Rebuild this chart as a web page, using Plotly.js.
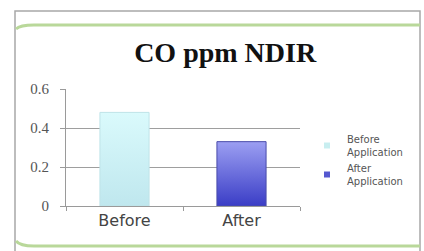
<!DOCTYPE html>
<html><head><meta charset="utf-8">
<script src="https://cdn.plot.ly/plotly-3.0.1.min.js"></script>
<style>html,body{margin:0;padding:0;background:#fff;overflow:hidden}#chart{width:424px;height:251px}</style>
</head><body><div id="chart"></div>
<script>
const categories = ['Before', 'After'];
const seriesNames = ['Before<br>Application', 'After<br>Application'];
const beforeValues = [0.48, null];
const afterValues = [null, 0.33];
const yTicks = [0, 0.2, 0.4, 0.6];
const yTickLabels = ['0', '0.2', '0.4', '0.6'];

const colBefore = '#cdf3f7', colAfter = '#6569dd';

const traces = [
  {type:'bar', x:categories, y:beforeValues, width:0.42, showlegend:false,
   marker:{color:colBefore, line:{color:'#bfe3e8', width:1}}},
  {type:'bar', x:categories, y:afterValues, width:0.42, showlegend:false,
   marker:{color:colAfter, line:{color:'#4a4caa', width:1}}},
  {type:'scatter', mode:'markers', x:[null], y:[null], name:seriesNames[0],
   marker:{symbol:'square', size:6, color:'#c8eef0'}},
  {type:'scatter', mode:'markers', x:[null], y:[null], name:seriesNames[1],
   marker:{symbol:'square', size:6, color:'#5558d0'}}
];

// plot area: x 66..300, y 89..206 (px)
const px = v => (v - 66) / 234;
const py = v => (206 - v) / 117;

const layout = {
  width:424, height:251,
  margin:{l:66, r:124, t:89, b:45},
  paper_bgcolor:'#ffffff', plot_bgcolor:'rgba(0,0,0,0)',
  barmode:'overlay',
  title:{text:'<b>CO ppm NDIR</b>', x:0.531, xanchor:'center', y:0.792, yanchor:'middle',
         font:{family:'Liberation Serif, Times New Roman, serif', size:28, color:'#111'}},
  xaxis:{type:'category', showgrid:false, showline:true, linecolor:'#9a9a9a', linewidth:1,
         ticks:'outside', tickson:'boundaries', ticklen:4, tickcolor:'#9a9a9a',
         tickfont:{family:'DejaVu Sans, Verdana, sans-serif', size:16, color:'#444'},
         fixedrange:true},
  yaxis:{range:[0,0.6], tickvals:yTicks, ticktext:yTickLabels, showgrid:true, gridcolor:'#9e9e9e',
         gridwidth:1, showline:true, linecolor:'#9a9a9a', linewidth:1, ticks:'outside', ticklen:5,
         tickcolor:'#9a9a9a', zeroline:false, ticklabelstandoff:8,
         tickfont:{family:'Liberation Serif, Times New Roman, serif', size:15, color:'#555'}},
  legend:{x:px(307), xref:'paper', y:py(160), yanchor:'middle',
          font:{family:'DejaVu Sans, Verdana, sans-serif', size:10, color:'#555'},
          bgcolor:'rgba(0,0,0,0)', tracegroupgap:4},
  shapes:[
    {type:'path', xref:'paper', yref:'paper',
     path:'M '+px(15)+','+py(290)+' L '+px(15)+','+py(11)+' L '+px(420)+','+py(11)+' L '+px(420)+','+py(290),
     line:{color:'#a8a8a8', width:1.5}, layer:'below'},
    {type:'path', xref:'paper', yref:'paper',
     path:'M '+px(16)+','+py(29)+' Q '+px(20)+','+py(25)+' '+px(34)+','+py(25)+' L '+px(420)+','+py(25),
     line:{color:'#b9d89a', width:3}},
    {type:'path', xref:'paper', yref:'paper',
     path:'M '+px(16)+','+py(241)+' Q '+px(20)+','+py(246)+' '+px(34)+','+py(246)+' L '+px(420)+','+py(246),
     line:{color:'#b9d89a', width:3}}
  ]
};

Plotly.newPlot('chart', traces, layout, {displayModeBar:false, staticPlot:true}).then(function(gd){
  const svg = gd.querySelector('svg.main-svg');
  const ns = 'http://www.w3.org/2000/svg';
  const defs = document.createElementNS(ns, 'defs');
  defs.innerHTML = '<linearGradient id="gB" x1="0" y1="0" x2="0" y2="1"><stop offset="0" stop-color="#dafafc"/><stop offset="1" stop-color="#bfe7ee"/></linearGradient>' +
                   '<linearGradient id="gA" x1="0" y1="0" x2="0" y2="1"><stop offset="0" stop-color="#9c9ff2"/><stop offset="1" stop-color="#3a3dc6"/></linearGradient>';
  svg.insertBefore(defs, svg.firstChild);
  const bars = gd.querySelectorAll('.barlayer .trace');
  if (bars[0]) bars[0].querySelectorAll('path').forEach(p => p.style.fill = 'url(#gB)');
  if (bars[1]) bars[1].querySelectorAll('path').forEach(p => p.style.fill = 'url(#gA)');
});
</script>
</body></html>
